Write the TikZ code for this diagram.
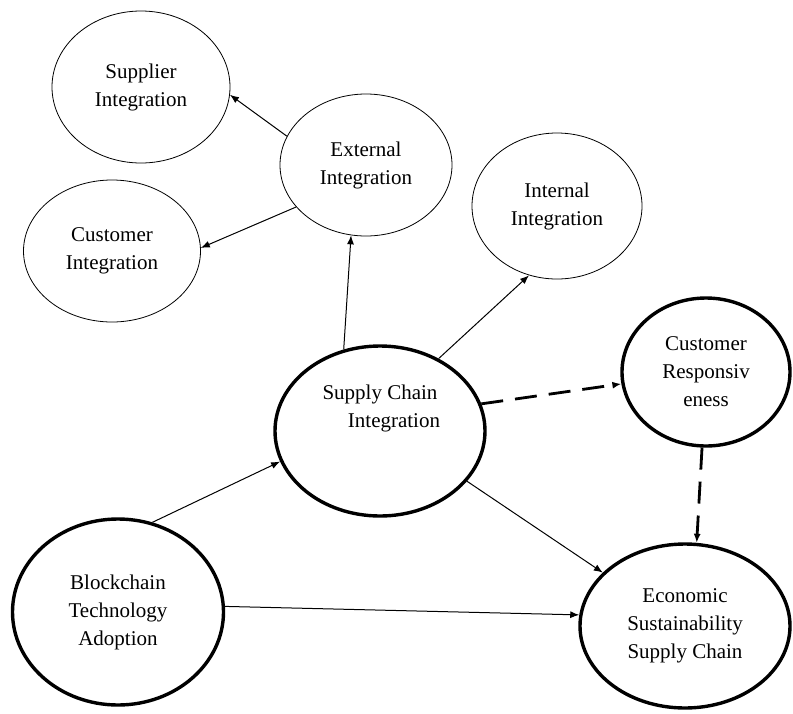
\documentclass[tikz,border=0pt]{standalone}
\usepackage{fontspec}
\setmainfont{Liberation Serif}
\usetikzlibrary{arrows.meta,shapes.geometric}

\begin{document}
\begin{tikzpicture}[x=1pt,y=-1pt,auto,semithick,>={Latex[length=9pt,width=7pt]}]
\tikzstyle{every node}=[font=\fontsize{21}{28}\selectfont,align=center]
\tikzstyle{thin state}=[draw,ellipse,inner sep=0pt,line width=0.8pt]
\tikzstyle{bold state}=[draw,ellipse,inner sep=0pt,line width=3.4pt]
\tikzstyle{link}=[->,line width=1pt]
\tikzstyle{dash link}=[->,line width=2.8pt,dash pattern=on 22pt off 12pt]

\useasboundingbox (0,0) rectangle (793,713);

\node[thin state,minimum width=178pt,minimum height=152pt] (sup) at (141,87) {Supplier\\Integration};
\node[thin state,minimum width=177pt,minimum height=142pt] (cus) at (112,251) {Customer\\Integration};
\node[thin state,minimum width=172pt,minimum height=142pt] (ext) at (366,165) {External\\Integration};
\node[thin state,minimum width=170pt,minimum height=146pt] (int) at (557,206) {Internal\\Integration};
\node[bold state,minimum width=210pt,minimum height=170pt] (sci) at (380,431) {};
\node (scitxt) at ([yshift=23pt]sci.center) {Supply Chain\\\hspace*{28pt}Integration};
\node[bold state,minimum width=168pt,minimum height=148pt] (cr) at (706,372) {Customer\\Responsiv\\eness};
\node[bold state,minimum width=211pt,minimum height=186pt] (bta) at (118,612) {Blockchain\\Technology\\Adoption};
\node[bold state,minimum width=210pt,minimum height=164pt] (essc) at (685,626) {Economic\\Sustainability\\Supply Chain};

\path   (ext.160)   edge[link]          (sup.355)
        (ext.211)   edge[link]          (cus.2)
        (sci.114)   edge[link]          (ext.258)
        (sci.51)    edge[link]          (int.248)
        (sci.330)   edge[link]          (essc.147)
        (bta.69)    edge[link]          (sci.197)
        (bta.3)     edge[link]          (essc.174)
        (sci.15)    edge[dash link]     (cr.188)
        (cr.267)    edge[dash link]     (essc.82);

\end{tikzpicture}
\end{document}
